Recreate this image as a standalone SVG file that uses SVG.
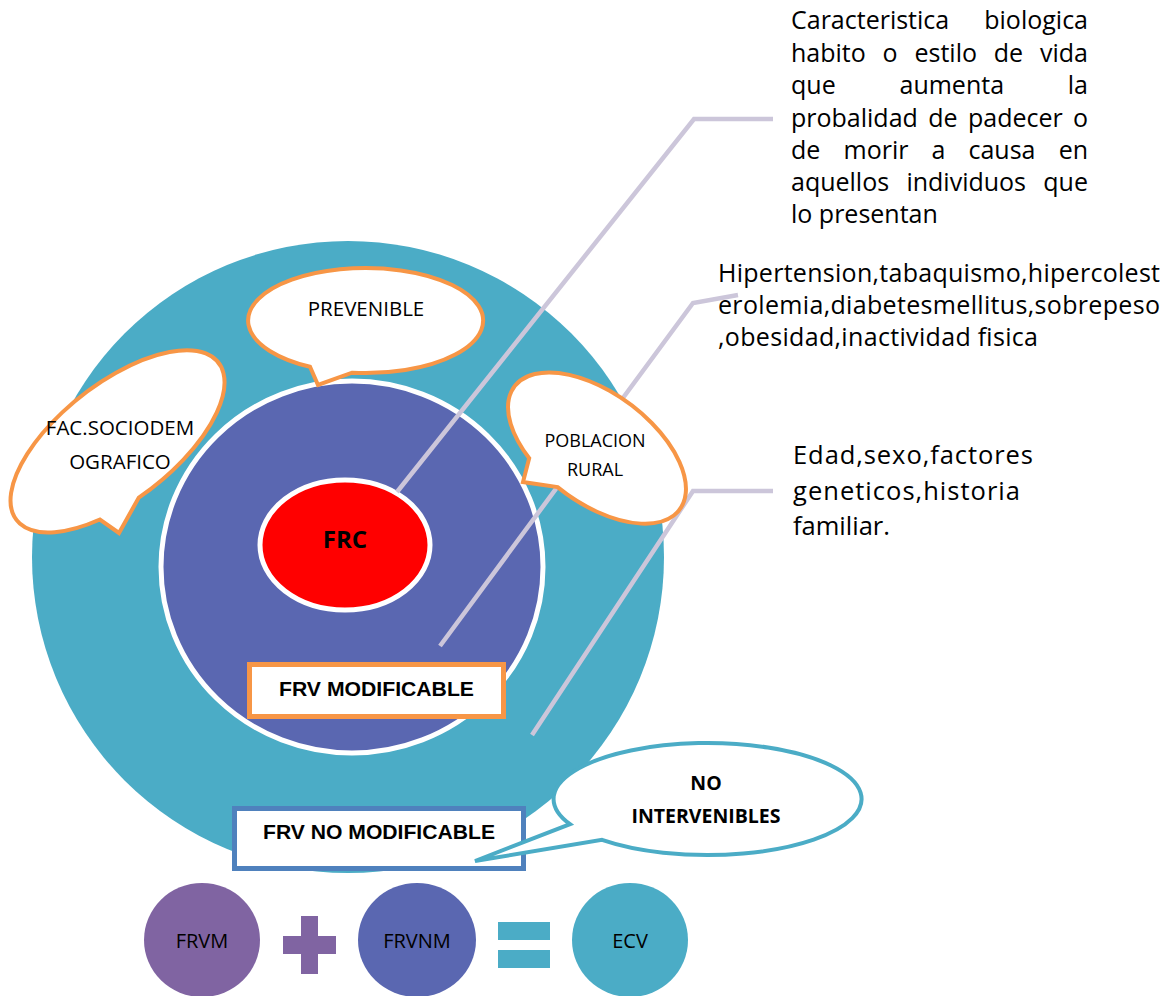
<svg xmlns="http://www.w3.org/2000/svg" width="1175" height="996" viewBox="0 0 1175 996">
<style>
.sans{font-family:"Open Sans","Liberation Sans",sans-serif;fill:#000}
.arial{font-family:"Liberation Sans",Arial,sans-serif;font-weight:bold;fill:#000}
.call{fill:#fff;stroke:#F79646;stroke-width:4;stroke-linejoin:miter}
.conn{fill:none;stroke:#CCC6DA;stroke-width:4.5;stroke-linejoin:miter}
</style>
<rect width="1175" height="996" fill="#fff"/>
<g id="outer-circle"><circle cx="348" cy="557" r="316" fill="#4BACC6"/></g>
<g id="inner-circle"><ellipse cx="352" cy="567" rx="191" ry="186" fill="#5A67B1" stroke="#fff" stroke-width="5"/></g>
<g id="frc"><ellipse cx="345" cy="545" rx="85" ry="65" fill="#FF0000" stroke="#fff" stroke-width="5"/>
<text class="sans" x="345" y="548" font-size="24" font-weight="bold" text-anchor="middle">FRC</text></g>
<g id="frv-modificable"><rect x="249.5" y="664.5" width="254" height="52" fill="#fff" stroke="#F79646" stroke-width="5"/>
<text class="arial" x="376.5" y="696" font-size="21" text-anchor="middle" textLength="195" lengthAdjust="spacingAndGlyphs">FRV MODIFICABLE</text></g>
<g id="connectors">
<polyline class="conn" points="397,492 694,119 773,119"/>
<polyline class="conn" points="440,646 693,303 738,295"/>
<polyline class="conn" points="532,735 693,491 773,491"/>
</g>
<g id="prevenible"><path class="call" d="M 352 372.7 A 117.5 52.5 0 1 0 310 366.8 L 318 385 Z"/>
<text class="sans" x="366" y="316" font-size="20.5" text-anchor="middle">PREVENIBLE</text></g>
<g id="fac-sociodemografico"><path class="call" d="M 138.8 497.6 A 128 58 -38 1 0 99.9 519.5 L 119 533 Z"/>
<text class="sans" x="120" y="435" font-size="20.5" text-anchor="middle">FAC.SOCIODEM</text>
<text class="sans" x="120" y="469" font-size="20.5" text-anchor="middle">OGRAFICO</text></g>
<g id="poblacion-rural"><path class="call" d="M 557.6 487.1 A 103 55 36.6 1 0 529.2 458.2 L 523 482 Z"/>
<text class="sans" x="595" y="446.7" font-size="18" text-anchor="middle">POBLACION</text>
<text class="sans" x="595" y="476" font-size="18" text-anchor="middle">RURAL</text></g>
<g id="frv-no-modificable"><rect x="234.5" y="808.5" width="289" height="60" fill="#fff" stroke="#4F81BD" stroke-width="5"/>
<text class="arial" x="379" y="839.3" font-size="21" text-anchor="middle" textLength="232" lengthAdjust="spacingAndGlyphs">FRV NO MODIFICABLE</text></g>
<g id="no-intervenibles"><path d="M 602 839.8 A 154 56 0 1 0 570 824.2 L 475 861 Z" fill="#fff" stroke="#4BACC6" stroke-width="4"/>
<text class="sans" x="706" y="790" font-size="19.5" font-weight="bold" text-anchor="middle">NO</text>
<text class="sans" x="706" y="823" font-size="19.5" font-weight="bold" text-anchor="middle">INTERVENIBLES</text></g>
<g id="definicion" class="sans" font-size="25">
<text y="29.3"><tspan x="791">Caracteristica</tspan><tspan x="1088" text-anchor="end">biologica</tspan></text>
<text y="61.7"><tspan x="791">habito</tspan><tspan x="882.6">o</tspan><tspan x="914.5">estilo</tspan><tspan x="993.8">de</tspan><tspan x="1088" text-anchor="end">vida</tspan></text>
<text y="94.3"><tspan x="791">que</tspan><tspan x="899.5">aumenta</tspan><tspan x="1088" text-anchor="end">la</tspan></text>
<text y="126.7"><tspan x="791">probalidad</tspan><tspan x="928.3">de</tspan><tspan x="968">padecer</tspan><tspan x="1088" text-anchor="end">o</tspan></text>
<text y="159"><tspan x="791">de</tspan><tspan x="843.5">morir</tspan><tspan x="931.6">a</tspan><tspan x="968.5">causa</tspan><tspan x="1088" text-anchor="end">en</tspan></text>
<text y="191"><tspan x="791">aquellos</tspan><tspan x="906.4">individuos</tspan><tspan x="1088" text-anchor="end">que</tspan></text>
<text x="791" y="222.7">lo presentan</text>
</g>
<g id="modificables" class="sans" font-size="25">
<text x="718" y="282" textLength="442" lengthAdjust="spacing">Hipertension,tabaquismo,hipercolest</text>
<text x="718" y="314" textLength="442" lengthAdjust="spacing">erolemia,diabetesmellitus,sobrepeso</text>
<text x="718" y="346" textLength="320" lengthAdjust="spacing">,obesidad,inactividad fisica</text>
</g>
<g id="no-modificables" class="sans" font-size="25.5">
<text x="793" y="464" textLength="240" lengthAdjust="spacing">Edad,sexo,factores</text>
<text x="793" y="499.5" textLength="227" lengthAdjust="spacing">geneticos,historia</text>
<text x="793" y="535">familiar.</text>
</g>
<g id="frvm"><ellipse cx="202" cy="940" rx="58" ry="57" fill="#8064A2"/>
<text class="sans" x="202" y="948" font-size="20" text-anchor="middle">FRVM</text></g>
<g id="plus" fill="#8064A2"><rect x="283" y="936" width="53" height="18"/><rect x="301" y="916" width="17" height="58"/></g>
<g id="frvnm"><ellipse cx="417" cy="940" rx="59" ry="57" fill="#5A67B1"/>
<text class="sans" x="417" y="948" font-size="20" text-anchor="middle">FRVNM</text></g>
<g id="equals" fill="#4BACC6"><rect x="498" y="922" width="52" height="18"/><rect x="498" y="950" width="52" height="18"/></g>
<g id="ecv"><ellipse cx="630" cy="940" rx="58" ry="57" fill="#4BACC6"/>
<text class="sans" x="630" y="948" font-size="20" text-anchor="middle">ECV</text></g>
</svg>
